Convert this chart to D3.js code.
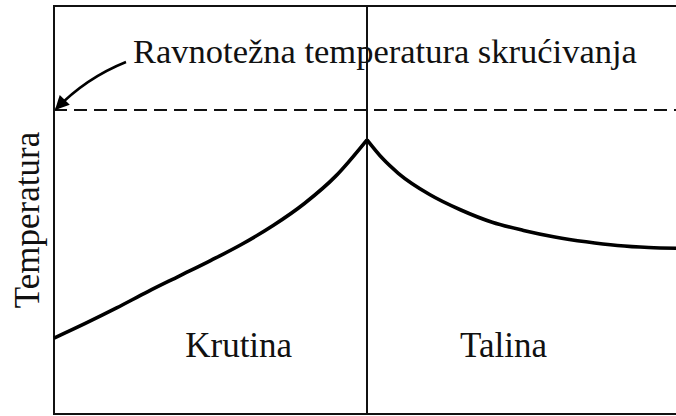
<!DOCTYPE html>
<html><head><meta charset="utf-8">
<script src="https://cdn.jsdelivr.net/npm/d3@7"></script>
<style>
html,body{margin:0;padding:0;background:#fff;}
svg{display:block;}
text{font-family:"Liberation Serif","DejaVu Serif",serif;fill:#111;}
</style></head><body>
<svg id="chart" width="676" height="416"></svg>
<script>
// Data (distance from the solid/liquid interface, temperature in arbitrary units)
const solidX = [-50, -45, -40, -35, -30, -25, -20, -15, -10, -5, 0];
const solidT = [18.6, 22.2, 26.0, 30.0, 33.8, 37.6, 41.6, 46.2, 51.6, 58.3, 67.2];
const liquidX = [0, 2.5, 5, 10, 15, 20, 25, 30, 35, 40, 45, 50];
const liquidT = [67.2, 62.6, 59.0, 53.8, 50.0, 47.0, 45.0, 43.4, 42.2, 41.3, 40.8, 40.6];
const equilibriumT = 74.5;
const regionLabels = ["Krutina", "Talina"];
const regionX = [-20.5, 21.8];
const yLabel = "Temperatura";
const annotation = "Ravnotežna temperatura skrućivanja";

const svg = d3.select("#chart");
const x = d3.scaleLinear().domain([-50, 50]).range([54, 680]);
const y = d3.scaleLinear().domain([0, 100]).range([414, 6]);

// frame: top, left, bottom
const frame = svg.append("g").attr("stroke", "#111").attr("stroke-width", 2).attr("fill", "none");
frame.append("line").attr("x1", x(-50)).attr("x2", x(50)).attr("y1", y(100)).attr("y2", y(100));
frame.append("line").attr("x1", x(-50)).attr("x2", x(50)).attr("y1", y(0)).attr("y2", y(0));
frame.append("line").attr("x1", x(-50)).attr("x2", x(-50)).attr("y1", y(100) - 1).attr("y2", y(0) + 1);
// interface
frame.append("line").attr("x1", x(0)).attr("x2", x(0)).attr("y1", y(100)).attr("y2", y(0));

// equilibrium dashed line
svg.append("line")
  .attr("x1", x(-50)).attr("x2", x(50))
  .attr("y1", y(equilibriumT)).attr("y2", y(equilibriumT))
  .attr("stroke", "#111").attr("stroke-width", 2).attr("stroke-dasharray", "13,7");

const line = d3.line().x(d => x(d[0])).y(d => y(d[1])).curve(d3.curveMonotoneX);
const curveStyle = sel => sel.attr("fill", "none").attr("stroke", "#000").attr("stroke-width", 3.6).attr("stroke-linejoin", "miter");
svg.append("path").datum(solidX.map((v, i) => [v, solidT[i]])).attr("d", line).call(curveStyle);
svg.append("path").datum(liquidX.map((v, i) => [v, liquidT[i]])).attr("d", line).call(curveStyle);

// labels
svg.selectAll("text.region").data(regionLabels).join("text")
  .attr("class", "region")
  .attr("x", (d, i) => x(regionX[i])).attr("y", 357)
  .attr("text-anchor", "middle").attr("font-size", 35).text(d => d);

svg.append("text")
  .attr("transform", `translate(39,${220}) rotate(-90)`)
  .attr("text-anchor", "middle").attr("font-size", 35).text(yLabel);

svg.append("text").attr("x", 133).attr("y", 63).attr("font-size", 34.5).text(annotation);

// arrow
const tipX = x(-50) + 2, tipY = y(equilibriumT) - 1;
svg.append("defs").append("marker")
  .attr("id", "ah").attr("viewBox", "0 0 10 10").attr("refX", 9).attr("refY", 5)
  .attr("markerWidth", 16).attr("markerHeight", 14).attr("orient", "auto")
  .attr("markerUnits", "userSpaceOnUse")
  .append("path").attr("d", "M0,0 L10,5 L0,10 Z").attr("fill", "#000");
const p = d3.path();
p.moveTo(126, 62);
p.quadraticCurveTo(86, 78, tipX, tipY);
svg.append("path").attr("d", p.toString()).attr("fill", "none")
  .attr("stroke", "#000").attr("stroke-width", 2.5).attr("marker-end", "url(#ah)");
</script>
</body></html>
